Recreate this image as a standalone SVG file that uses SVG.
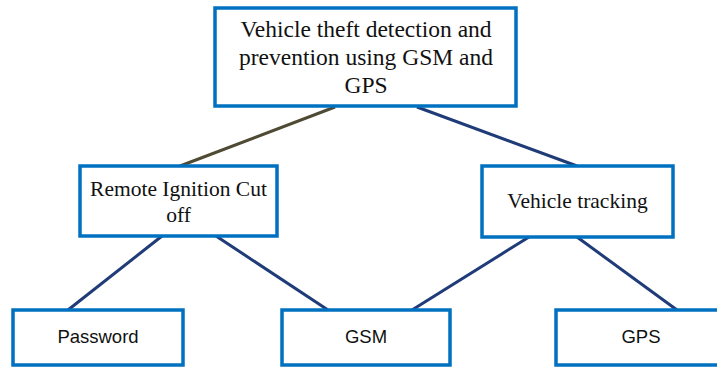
<svg xmlns="http://www.w3.org/2000/svg" width="717" height="367" viewBox="0 0 717 367">
<style>
.box{fill:#fff;stroke:#0070c0;stroke-width:3.5}
.serif{font-family:"Liberation Serif","Times New Roman",serif;fill:#111;text-anchor:middle}
.sans{font-family:"Liberation Sans",Arial,sans-serif;fill:#111;text-anchor:middle;font-size:18.5px}
.con{stroke:#1f3b78;stroke-width:3;fill:none}
.con2{stroke:#4e4a33;stroke-width:3;fill:none}
</style>
<rect width="717" height="367" fill="#fff"/>
<g id="connectors">
<line class="con2" x1="335" y1="107" x2="180" y2="166"/>
<line class="con" x1="417" y1="107" x2="577" y2="166"/>
<line class="con" x1="162" y1="236" x2="68" y2="310"/>
<line class="con" x1="216" y1="236" x2="328" y2="310"/>
<line class="con" x1="529" y1="237" x2="412" y2="310"/>
<line class="con" x1="577" y1="237" x2="677" y2="310"/>
</g>
<g id="root">
<rect class="box" x="215" y="8" width="301" height="98"/>
<text class="serif" font-size="23.5"><tspan x="366" y="37">Vehicle theft detection and</tspan><tspan x="366" y="65">prevention using GSM and</tspan><tspan x="366" y="93">GPS</tspan></text>
</g>
<g id="remote">
<rect class="box" x="80" y="166" width="197" height="70"/>
<text class="serif" font-size="21.5"><tspan x="178.5" y="196">Remote Ignition Cut</tspan><tspan x="178.5" y="222">off</tspan></text>
</g>
<g id="tracking">
<rect class="box" x="482" y="166" width="191" height="71"/>
<text class="serif" font-size="21.5" x="577.5" y="208">Vehicle tracking</text>
</g>
<g id="password">
<rect class="box" x="13" y="310" width="170" height="55"/>
<text class="sans" x="98" y="343">Password</text>
</g>
<g id="gsm">
<rect class="box" x="282" y="310" width="168" height="55"/>
<text class="sans" x="366" y="343">GSM</text>
</g>
<g id="gps">
<rect class="box" x="556" y="310" width="170" height="55"/>
<text class="sans" x="641" y="343">GPS</text>
</g>
</svg>
